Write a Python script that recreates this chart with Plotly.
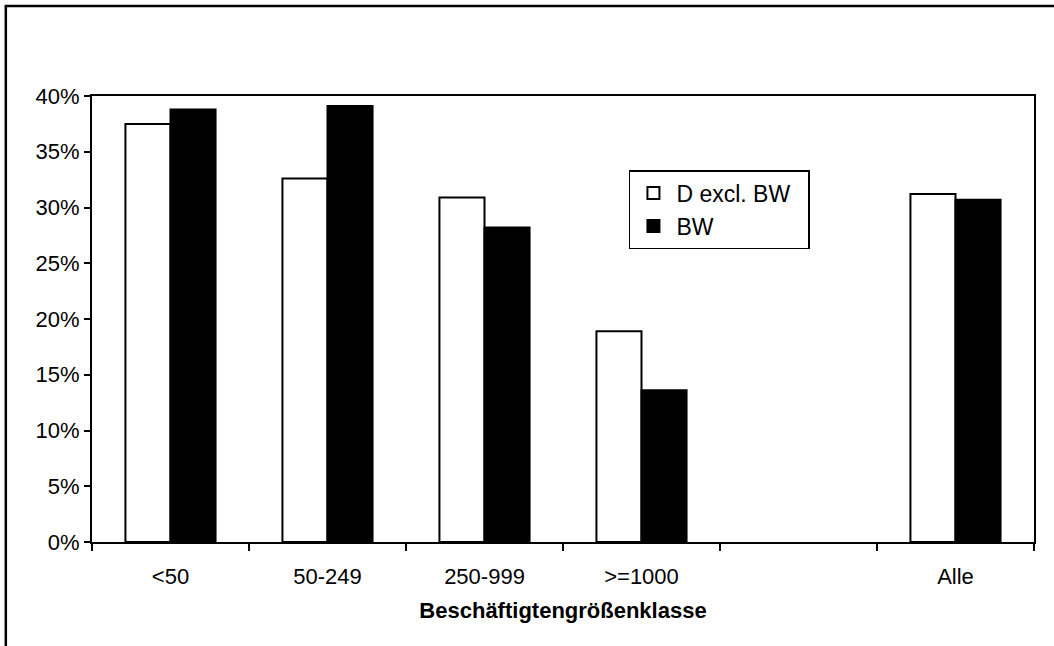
import plotly.graph_objects as go

categories = ["<50", "50-249", "250-999", ">=1000", " ", "Alle"]
series_names = ["D excl. BW", "BW"]
d_excl_bw = [37.5, 32.6, 30.9, 18.9, None, 31.2]
bw = [38.8, 39.1, 28.2, 13.6, None, 30.7]
y_ticks = [0, 5, 10, 15, 20, 25, 30, 35, 40]
y_tick_labels = [f"{v}%" for v in y_ticks]

FONT = "Liberation Sans, Arial, sans-serif"

fig = go.Figure()
fig.add_trace(go.Bar(
    x=categories, y=d_excl_bw, name=series_names[0] + "\u00a0\u00a0", legendgroup="a",
    marker=dict(color="white", line=dict(color="black", width=2)),
))
fig.add_trace(go.Bar(
    x=categories, y=bw, name=series_names[1], legendgroup="b",
    marker=dict(color="black", line=dict(color="black", width=2)),
))

fig.update_layout(
    width=1054, height=646,
    margin=dict(l=92, r=20, t=96, b=104),
    paper_bgcolor="white", plot_bgcolor="white",
    barmode="group", bargap=0.426, bargroupgap=0,
    font=dict(family=FONT, size=22, color="black"),
    showlegend=True,
    legend=dict(
        x=0.570, y=0.834, xanchor="left", yanchor="top",
        bgcolor="white", bordercolor="black", borderwidth=1.5,
        font=dict(family=FONT, size=23, color="black"),
        tracegroupgap=0, itemwidth=36,
    ),
    xaxis=dict(
        type="category",
        showline=True, linecolor="black", linewidth=2, mirror=True,
        ticks="outside", ticklen=7, tickwidth=1.5, tickcolor="black",
        tickson="boundaries", ticklabelstandoff=14,
        showgrid=False,
        title=dict(text="<b>Beschäftigtengrößenklasse</b>",
                   font=dict(family=FONT, size=22, color="black"), standoff=14),
    ),
    yaxis=dict(
        range=[0, 40], tickmode="array", tickvals=y_ticks, ticktext=y_tick_labels,
        showline=True, linecolor="black", linewidth=2, mirror=True,
        ticks="outside", ticklen=6, tickwidth=1.5, tickcolor="black",
        showgrid=False, zeroline=False,
    ),
    shapes=[dict(
        type="rect", xref="paper", yref="paper",
        x0=-0.0915, x1=1.03, y0=-0.26, y1=1.2018,
        line=dict(color="black", width=2.5), fillcolor="rgba(0,0,0,0)",
        layer="below",
    )],
)

fig.write_html(
    "out.html",
    config={"displayModeBar": False},
    post_script="document.body.style.margin='0';document.body.style.overflow='hidden';",
)
